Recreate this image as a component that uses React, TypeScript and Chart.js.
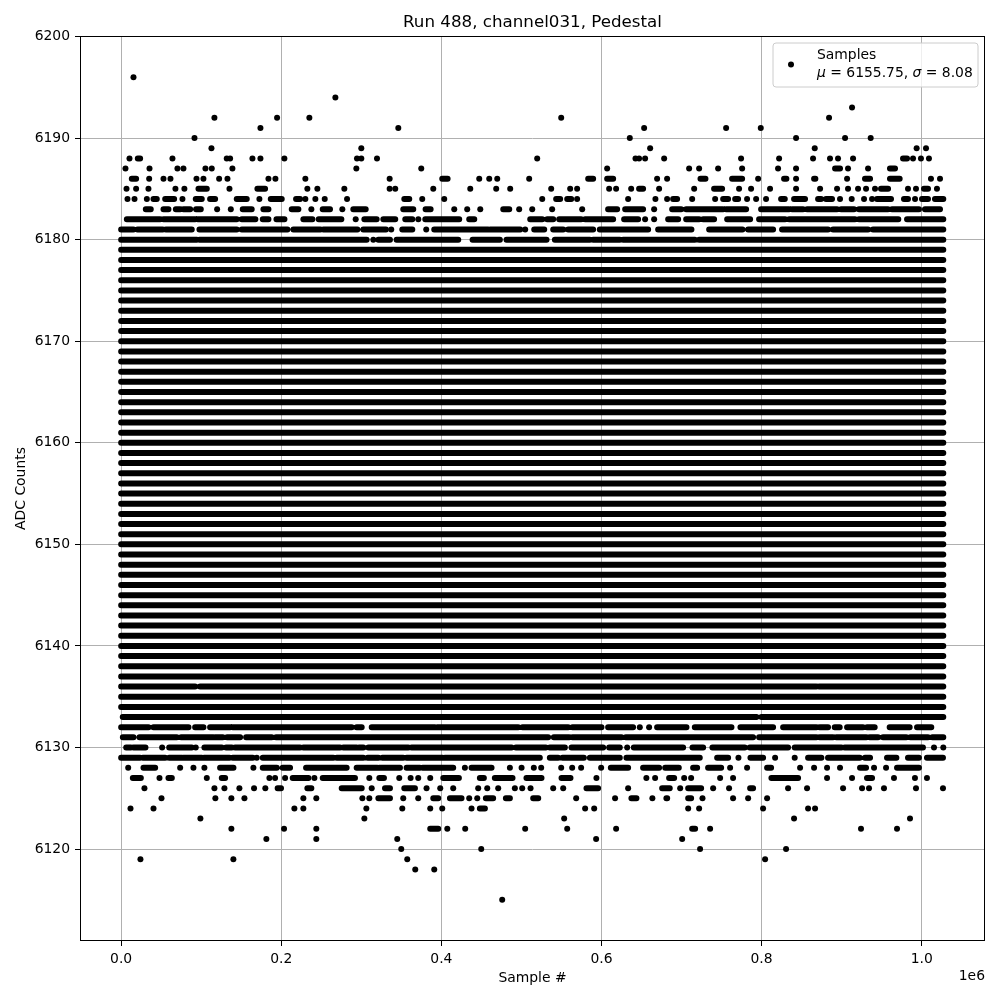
import { useEffect, useRef } from "react";
import { Chart, registerables } from "chart.js";

Chart.register(...registerables);

// ---------- text ----------
const TITLE = "Run 488, channel031, Pedestal";
const X_LABEL = "Sample #";
const Y_LABEL = "ADC Counts";
const X_OFFSET_LABEL = "1e6";
const LEGEND_NAME = "Samples";
const LEGEND_MU = "6155.75";
const LEGEND_SIGMA = "8.08";

// ---------- axes ----------
const X_TICKS = [0, 200000, 400000, 600000, 800000, 1000000];
const Y_TICKS = [6120, 6130, 6140, 6150, 6160, 6170, 6180, 6190, 6200];
const X_MIN = -51400;
const X_MAX = 1079100;
const Y_MIN = 6110.95;
const Y_MAX = 6200.05;

// ---------- data (x in thousands of samples) ----------
const FIRST_SAMPLE_K = 0;
const LAST_SAMPLE_K = 1027;

// ADC levels that are filled over the whole run
const fullLevels = [
  6134, 6135, 6137, 6138, 6139, 6140, 6141, 6142, 6143, 6144, 6145, 6146, 6147,
  6148, 6149, 6150, 6151, 6152, 6153, 6154, 6155, 6156, 6157, 6158, 6159, 6160,
  6161, 6162, 6163, 6164, 6165, 6166, 6167, 6168, 6169, 6170, 6171, 6172, 6173,
  6174, 6175, 6176, 6177, 6178, 6179,
];

type Item = number | [number, number];

// a number is a single sample, a pair is a densely filled run [from, to]
const row6196: Item[] = [15.4];
const row6194: Item[] = [267.6];
const row6193: Item[] = [913];
const row6192: Item[] = [116.5, 194.8, 235.1, 549.7, 884.3];
const row6191: Item[] = [174, 346.2, 653.3, 755.7, 799];
const row6190: Item[] = [91.6, 635.4, 843.1, 904.3, 936.3];
const row6189: Item[] = [112.8, 300, 660.8, 866.4, 993.7, 1005.4];
const row6188: Item[] = [10.4, [20.8, 23.7], 64.1, 131.9, 136.1, 164, 174, 203.9, 294.6, 300, 319.6, 519.7, 642.5, 647, 654.5, 678.3, 774.4, 821.9, 864.3, 885.5, 895.5, 914.3, [976.7, 981.7], 989.2, 999.1, 1009.1];
const row6187: Item[] = [5.4, 35.4, 70.3, 77.8, 105.3, 113.2, 139, 293.8, 374.9, 607.1, 709.5, 722, 745.7, 775.7, 820.6, 843.1, [891.8, 898], 908, 933, [960.4, 966.7]];
const row6186: Item[] = [[13.3, 18.7], 35, 52.9, 61.6, 94.1, 102.8, 122.4, 132.8, 184, 192.7, 230.1, 335.4, [401.1, 407.8], 447.3, 459.8, 469.8, 509.7, [583.4, 589.6], [607.1, 614.6], 669.5, 682, [723.7, 729.9], [763.2, 775.7], 795.7, [828.1, 831], 843.1, [865.6, 867.2], 906.8, [929.2, 935.5], [960.4, 972.5], 1011.6, 1022.9];
const row6185: Item[] = [6.7, 18.7, 34.1, 67.8, 79, [96.6, 107], 135.3, [170.2, 179.8], 232.6, 245.1, 278.8, 335.4, 342.4, 389.9, 436.1, 468.5, 486, 537.2, 560.9, 569.6, 609.6, 618.3, 637.1, [647, 652], 672, 715.8, [740.7, 750.7], 771.9, 786.9, 810.6, 843.1, 873.1, 894.3, 908, 920.5, 930.5, 941.7, [949.2, 958], 982.9, 992.9, [1002.9, 1007.9], 1019.1];
const row6184: Item[] = [7.9, 16.7, 32.1, [40.4, 44.5], [55, 66.2], 76.6, [93.2, 100.7], [111.1, 117.4], [144.4, 156.9], 172.7, [186.9, 200.6], [218.5, 223.5], 230.1, 242.6, 254.3, 282.2, [353.7, 359.9], 376.1, 403.6, 526, [543.4, 548.4], [557.2, 562.2], 569.6, 633.3, 667.4, 682, [689.5, 694.5], 713.3, 742, [752, 758.2], [767, 770.7], 781.9, 793.2, 805.6, [824.4, 829], [840.6, 854.3], [870.6, 874.3], [880.5, 888], 898, 912.6, 928, 938, [944.2, 961.7], [977.9, 982.9], 991.7, [1000.4, 1007.9], [1016.6, 1027]];
const row6183: Item[] = [[30.8, 37], [52.9, 59.1], [68.3, 73.7], [77.8, 86.2], [93.6, 99.5], 119.9, 137, [151.9, 163.1], [177.7, 184], [213.1, 221.4], 237.6, [251.8, 260.9], 276.3, [290, 305.5], [352.4, 364.9], [380.3, 386.6], 416.1, 432.3, 448.6, [477.3, 484.8], 497.2, 513.5, 538.4, 575.9, [608.3, 619.6], [629.6, 652], 665.8, [688.3, 699.5], [705.8, 752], [755.7, 780.7], [799.4, 834.4], [838.1, 851.8], [856.8, 894.3], [899.3, 915.5], [921.7, 957.9], [962.9, 996.6], [1004.1, 1022.9]];
const row6182: Item[] = [[7.1, 48.7], [52.9, 92.4], [95.7, 144.4], [150.7, 167.7], [176.9, 184], [194, 204], [227.6, 238.9], [246.8, 275.1], 293, [303.8, 319.2], [327.5, 342.4], [354.9, 363.7], 371.2, [379.9, 422.3], [434.8, 441.1], [511, 526], [532.2, 539.7], [547.2, 574.6], [579.6, 614.6], [628.3, 645.8], 654.5, 665.8, [683.3, 695.8], [705.8, 722], [727, 740.7], [757, 785.7], [796.9, 829.4], [834.4, 916.7], [921.7, 970.8], [981.7, 1027]];
const row6181: Item[] = [[0, 15.4], [20.4, 52], [55.8, 88.2], [97.8, 144.4], [150.7, 207.7], [215.2, 248.9], [252.6, 295.1], [302.5, 330.8], 337.4, [351.2, 363.7], 381.1, [391.1, 458.5], [461, 498.5], 504.7, [516, 528.5], [539.7, 552.2], [558.4, 589.6], [597.9, 658.3], [670.8, 712.4], [734.5, 776.1], [783.2, 814.4], [825.6, 883], [889.3, 933], [939.2, 1027]];
const row6180: Item[] = [[0, 94.5], [97.8, 306.7], 315, [321.3, 335.8], [344.1, 421.1], [439, 473.1], [481.4, 531.4], [541.8, 585.5], [589.6, 622.9], [627.1, 716.6], [722, 1027]];
const row6136: Item[] = [[0, 92.4], [98.6, 868.5], [871.8, 1027]];
const row6133: Item[] = [[2, 793.6], [799.8, 1027]];
const row6132: Item[] = [[0, 34.1], [40.4, 84.1], [92.4, 102.8], [111.1, 136.1], [139.4, 288], [294.2, 300.5], [313, 392], [394.9, 496], [501.4, 558.4], [563.8, 600], [608.3, 639.5], 647.9, 659.5, [669.5, 706.2], [716.6, 762.4], [773.6, 814.4], [826.9, 868.5], [872.6, 883], [891.4, 897.6], [906.8, 926.7], [931.7, 941.3], [960, 985], [994.2, 1012]];
const row6131: Item[] = [[2.1, 15.4], [22.9, 69.5], [74.9, 115.3], [117.4, 127], [132.3, 148.6], [156.1, 188.1], [193.5, 533.4], [540.5, 559.7], [563.8, 625], [630.4, 789.4], [796.9, 868.5], [872.6, 889.3], [893.4, 930.9], [935.1, 945.5], [951.7, 980.8], [985.8, 1007.9], [1013.3, 1027]];
const row6130: Item[] = [[6.3, 12.1], [15.4, 30.4], 51.2, [60, 88.2], 93.2, [104, 125.7], [131.1, 138.2], [142.3, 223.5], [227.6, 273.4], [277.6, 294.2], [297.1, 302.5], [308.8, 358.7], [362.8, 487.7], [493.1, 530.5], [535.5, 554.3], [562.6, 602.1], [609.6, 622.9], 632.1, [640.4, 702], [713.7, 727], [738.6, 779], [785.3, 833.1], [841.4, 899.7], [903.8, 1001.6], 1015.4, 1027];
const row6129: Item[] = [[0, 23.7], [27.1, 55], [60, 75.8], [77.8, 100.7], [103.6, 135.3], [139.4, 164.4], 169.4, [176.9, 265.1], [269.3, 302.5], [308, 321.3], [326.3, 352.4], [356.6, 401.5], [404.4, 523], [535.5, 545.9], [551.3, 578], [585.5, 622.9], [631.2, 722.8], [744.5, 758.2], 771.1, [786.1, 801.9], 816.9, 841.4, [858.1, 874.7], [883, 922.6], [929.2, 935.5], [956.7, 968.4], [982.9, 996.6], [1006.6, 1026.6]];
const row6128: Item[] = [8.8, [27.9, 42.5], 73.7, 90.3, 104, [123.6, 140.3], 165.2, [176.9, 194.4], [201.8, 211], [231, 281.7], [294.2, 320], [322.5, 348.3], [356.6, 373.2], [376.6, 414.8], 429.4, [437.7, 462.7], 485.6, 500.2, 515.5, 524.7, 549.7, 563.4, 574.6, 599.6, [611.7, 633.3], [652, 672], [679.6, 696.6], [714.5, 719.5], [733.2, 749.5], 760.7, 781.9, [806.9, 811.9], 848.1, 865.6, 881.8, 898, [923, 930.5], 940.5, 955.5, [969.2, 996.6]];
const row6127: Item[] = [[14.6, 24.6], 47.9, [59.1, 63.3], 107, [125.7, 129.9], 185.2, 192.3, 204.8, [214.3, 233.9], 241.4, [251.8, 292.1], 310, [322.5, 328.3], 347.4, 361.6, 371.1, 386.1, [402.4, 421.9], [448.1, 453.1], [466.8, 488.9], [506.3, 525.1], [550.1, 561.3], 593.7, 656.1, 667, [684.5, 690.8], 703.3, 712, 748.2, 764.4, [812.3, 845.6], 881.8, 913, [931.7, 938], 965.4, 991.6, 1006.6];
const row6126: Item[] = [29.1, 116.5, 129, 147.7, 166, 180.1, [195.5, 199.7], [232.6, 237.6], [275.5, 300.5], 313, [329.6, 335.8], [353.7, 367], 381.5, 398.6, 414.8, 446, 457.3, 471, 491.8, 501, 511.4, 539.7, 552.2, [581.3, 595.8], 633.3, [675.8, 685.3], 698.3, [708.3, 724.5], 739.5, 759.4, [785.7, 789.4], 833.1, 856.8, 901.8, 925.5, 934.2, 952.9, 992.9, 1026.6];
const row6125: Item[] = [50.4, 117.7, 137.7, 154, 227.6, 243.8, 301.3, 310, [321.3, 335.8], 352.4, 371.1, [389.9, 396.1], [410.7, 425.2], 434.8, 444.8, [455.6, 464.7], [480.6, 485.6], [514.7, 521], 568.4, 617, [637.4, 643.7], 663.6, [681.1, 682.1], [708.3, 712], 726.2, 764.4, 783.2, 806.9];
const row6124: Item[] = [11.7, 40.4, 216.4, 227.6, 306.3, 351.2, 386.1, 401.1, 437.7, [448.1, 454.4], 579.6, 590.9, 708.3, 722, 801.9, 858.1, 866.8];
const row6123: Item[] = [99, 303.8, 553.4, 840.6, 985.4];
const row6122: Item[] = [137.7, 203.5, 243.8, [386.1, 396.1], 407.4, 429.8, 504.7, 557.2, 618.3, [713.3, 717], 735.7, 924.2, 969.2];
const row6121: Item[] = [181.4, 243.8, 344.9, 593.3, 700.8];
const row6120: Item[] = [349.9, 449.8, 723.2, 830.6];
const row6119: Item[] = [24.1, 140.2, 357.4, 804.4];
const row6118: Item[] = [367.4, 391.1];
const row6115: Item[] = [476];

const partialRows: [number, Item[]][] = [
  [6196, row6196], [6194, row6194], [6193, row6193], [6192, row6192],
  [6191, row6191], [6190, row6190], [6189, row6189], [6188, row6188],
  [6187, row6187], [6186, row6186], [6185, row6185], [6184, row6184],
  [6183, row6183], [6182, row6182], [6181, row6181], [6180, row6180],
  [6136, row6136], [6133, row6133], [6132, row6132], [6131, row6131],
  [6130, row6130], [6129, row6129], [6128, row6128], [6127, row6127],
  [6126, row6126], [6125, row6125], [6124, row6124], [6123, row6123],
  [6122, row6122], [6121, row6121], [6120, row6120], [6119, row6119],
  [6118, row6118], [6115, row6115],
];

const FONT = "'DejaVu Sans', sans-serif";
const TICK_PX = 13.9;

function buildData() {
  const runs: { x: number; y: number | null }[] = [];
  const dots: { x: number; y: number }[] = [];
  const addRun = (a: number, b: number, lvl: number) => {
    runs.push({ x: a * 1000, y: lvl }, { x: b * 1000, y: lvl }, { x: b * 1000, y: null });
  };
  for (const lvl of fullLevels) addRun(FIRST_SAMPLE_K, LAST_SAMPLE_K, lvl);
  for (const [lvl, items] of partialRows) {
    for (const it of items) {
      if (Array.isArray(it)) addRun(it[0], it[1], lvl);
      else dots.push({ x: it * 1000, y: lvl });
    }
  }
  return { runs, dots };
}

const decorPlugin = {
  id: "decor",
  afterDraw(chart: any) {
    const ctx: CanvasRenderingContext2D = chart.ctx;
    const a = chart.chartArea;
    ctx.save();
    // frame
    ctx.strokeStyle = "#000";
    ctx.lineWidth = 1;
    ctx.strokeRect(a.left + 0.5, a.top + 0.5, a.right - a.left - 1, a.bottom - a.top - 1);

    // title
    ctx.fillStyle = "#000";
    ctx.font = `16.7px ${FONT}`;
    ctx.textAlign = "center";
    ctx.textBaseline = "alphabetic";
    const cx = (a.left + a.right) / 2;
    ctx.fillText(TITLE, cx, 27);

    // x label
    ctx.font = `${TICK_PX}px ${FONT}`;
    ctx.textBaseline = "alphabetic";
    ctx.fillText(X_LABEL, cx, 982);

    // offset text
    ctx.textAlign = "right";
    ctx.fillText(X_OFFSET_LABEL, a.right, 980);

    // y label
    ctx.save();
    ctx.translate(25, (a.top + a.bottom) / 2);
    ctx.rotate(-Math.PI / 2);
    ctx.textAlign = "center";
    ctx.textBaseline = "alphabetic";
    ctx.fillText(Y_LABEL, 0, 0);
    ctx.restore();

    // legend
    const bx = 773, by = 43, bw = 205, bh = 44, r = 3;
    ctx.beginPath();
    ctx.moveTo(bx + r, by);
    ctx.lineTo(bx + bw - r, by);
    ctx.arcTo(bx + bw, by, bx + bw, by + r, r);
    ctx.lineTo(bx + bw, by + bh - r);
    ctx.arcTo(bx + bw, by + bh, bx + bw - r, by + bh, r);
    ctx.lineTo(bx + r, by + bh);
    ctx.arcTo(bx, by + bh, bx, by + bh - r, r);
    ctx.lineTo(bx, by + r);
    ctx.arcTo(bx, by, bx + r, by, r);
    ctx.closePath();
    ctx.fillStyle = "rgba(255,255,255,0.8)";
    ctx.fill();
    ctx.strokeStyle = "#cccccc";
    ctx.lineWidth = 1;
    ctx.stroke();

    ctx.fillStyle = "#000";
    ctx.beginPath();
    ctx.arc(791, 64.5, 3, 0, Math.PI * 2);
    ctx.fill();

    ctx.textAlign = "left";
    ctx.textBaseline = "alphabetic";
    const tx = 817;
    ctx.font = `${TICK_PX}px ${FONT}`;
    ctx.fillText(LEGEND_NAME, tx, 59);
    const parts: [string, boolean][] = [
      ["μ", true], [` = ${LEGEND_MU}, `, false], ["σ", true], [` = ${LEGEND_SIGMA}`, false],
    ];
    let px = tx;
    for (const [s, it] of parts) {
      ctx.font = `${it ? "oblique " : ""}${TICK_PX}px ${FONT}`;
      ctx.fillText(s, px, 76.5);
      px += ctx.measureText(s).width;
    }
    ctx.restore();
  },
};

export default function App() {
  const ref = useRef<HTMLCanvasElement | null>(null);
  useEffect(() => {
    if (!ref.current) return;
    const { runs, dots } = buildData();
    const chart = new Chart(ref.current, {
      type: "scatter",
      data: {
        datasets: [
          {
            label: LEGEND_NAME,
            data: runs as any,
            showLine: true,
            spanGaps: false,
            borderColor: "#000",
            backgroundColor: "#000",
            borderWidth: 6,
            borderCapStyle: "round",
            pointRadius: 0,
            pointHoverRadius: 0,
            tension: 0,
          } as any,
          {
            label: LEGEND_NAME,
            data: dots,
            pointRadius: 3,
            pointHoverRadius: 3,
            pointBorderWidth: 0,
            pointBackgroundColor: "#000",
            borderColor: "#000",
            backgroundColor: "#000",
          } as any,
        ],
      },
      options: {
        animation: false,
        responsive: false,
        devicePixelRatio: 1,
        events: [],
        layout: { padding: { top: 36, right: 15, left: 0, bottom: 0 } },
        plugins: { legend: { display: false }, tooltip: { enabled: false }, title: { display: false } },
        scales: {
          x: {
            type: "linear",
            min: X_MIN,
            max: X_MAX,
            afterFit: (s: any) => { s.height = 59; },
            afterBuildTicks: (s: any) => { s.ticks = X_TICKS.map((v) => ({ value: v })); },
            grid: { color: "#b0b0b0", lineWidth: 1, tickColor: "#000", tickLength: 5, tickWidth: 1 },
            border: { display: false },
            ticks: {
              color: "#000",
              padding: 5,
              maxRotation: 0,
              font: { family: FONT, size: TICK_PX },
              callback: (v: any) => (Number(v) / 1e6).toFixed(1),
            },
          },
          y: {
            type: "linear",
            min: Y_MIN,
            max: Y_MAX,
            afterFit: (s: any) => { s.width = 80; },
            afterBuildTicks: (s: any) => { s.ticks = Y_TICKS.map((v) => ({ value: v })); },
            grid: { color: "#b0b0b0", lineWidth: 1, tickColor: "#000", tickLength: 5, tickWidth: 1 },
            border: { display: false },
            ticks: {
              color: "#000",
              padding: 5,
              font: { family: FONT, size: TICK_PX },
              callback: (v: any) => String(v),
            },
          },
        },
      } as any,
      plugins: [decorPlugin],
    });
    return () => chart.destroy();
  }, []);
  return (
    <div style={{ position: "absolute", left: 0, top: 0, width: 1000, height: 1000, background: "#fff" }}>
      <canvas ref={ref} width={1000} height={1000} style={{ display: "block" }} />
    </div>
  );
}
